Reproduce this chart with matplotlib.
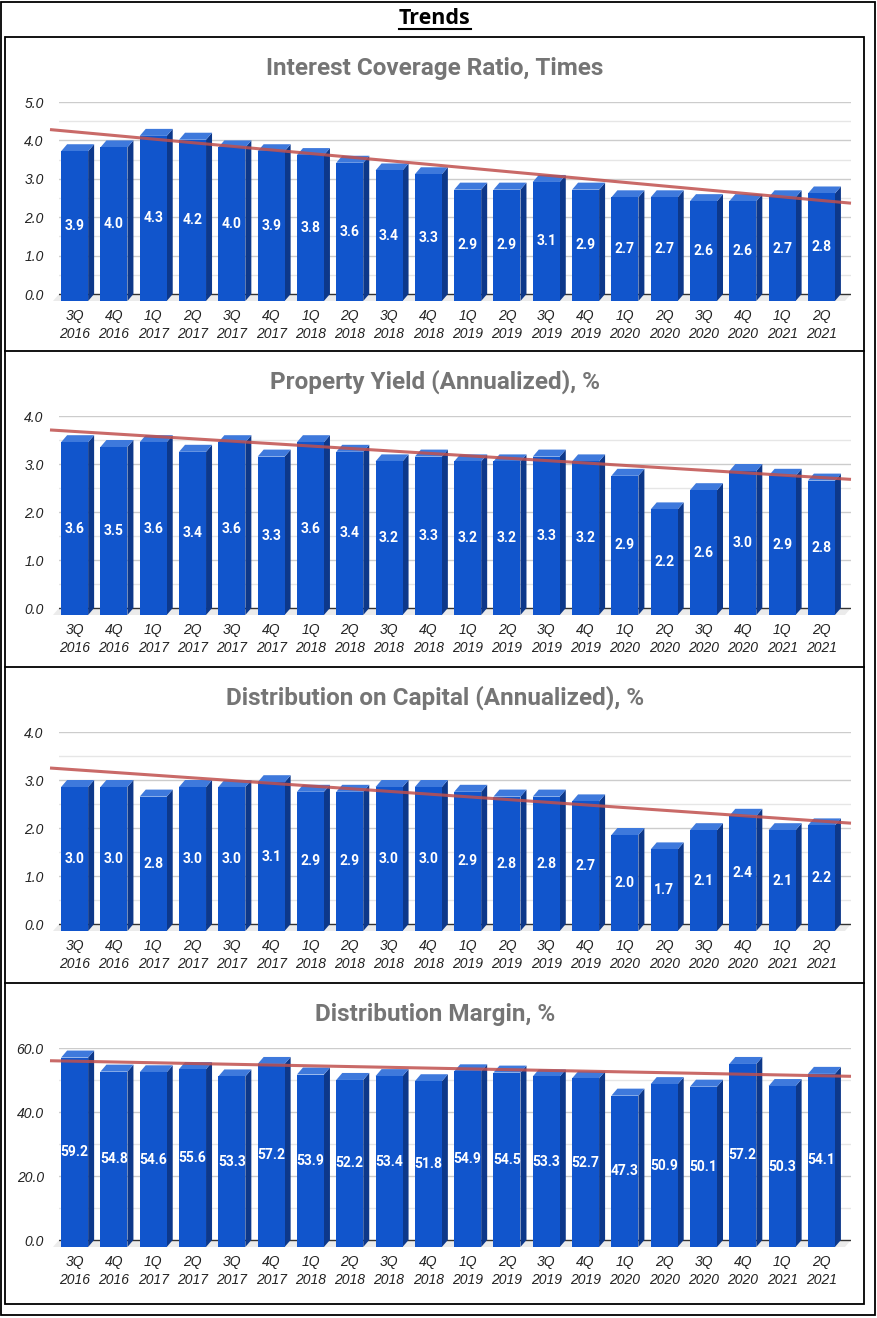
import numpy as np
import matplotlib
matplotlib.use("Agg")
import matplotlib.pyplot as plt
from matplotlib.patches import Polygon, Rectangle

plt.rcParams['font.family'] = ['Roboto', 'DejaVu Sans']

# --- Data ---
quarters = ["3Q\n2016", "4Q\n2016", "1Q\n2017", "2Q\n2017", "3Q\n2017", "4Q\n2017",
            "1Q\n2018", "2Q\n2018", "3Q\n2018", "4Q\n2018", "1Q\n2019", "2Q\n2019",
            "3Q\n2019", "4Q\n2019", "1Q\n2020", "2Q\n2020", "3Q\n2020", "4Q\n2020",
            "1Q\n2021", "2Q\n2021"]
interest_coverage = [3.9, 4.0, 4.3, 4.2, 4.0, 3.9, 3.8, 3.6, 3.4, 3.3,
                     2.9, 2.9, 3.1, 2.9, 2.7, 2.7, 2.6, 2.6, 2.7, 2.8]
property_yield = [3.6, 3.5, 3.6, 3.4, 3.6, 3.3, 3.6, 3.4, 3.2, 3.3,
                  3.2, 3.2, 3.3, 3.2, 2.9, 2.2, 2.6, 3.0, 2.9, 2.8]
distribution_capital = [3.0, 3.0, 2.8, 3.0, 3.0, 3.1, 2.9, 2.9, 3.0, 3.0,
                        2.9, 2.8, 2.8, 2.7, 2.0, 1.7, 2.1, 2.4, 2.1, 2.2]
distribution_margin = [59.2, 54.8, 54.6, 55.6, 53.3, 57.2, 53.9, 52.2, 53.4, 51.8,
                       54.9, 54.5, 53.3, 52.7, 47.3, 50.9, 50.1, 57.2, 50.3, 54.1]

titles = ["Interest Coverage Ratio, Times", "Property Yield (Annualized), %",
          "Distribution on Capital (Annualized), %", "Distribution Margin, %"]
series = [interest_coverage, property_yield, distribution_capital, distribution_margin]
y_tops = [5.0, 4.0, 4.0, 60.0]
y_steps = [1.0, 1.0, 1.0, 20.0]

# --- Style ---
FRONT = '#1155cc'
TOP = '#3e79dc'
SIDE = '#0d388a'
TREND = '#c0504d'
TICK_FONT = ['Liberation Sans', 'DejaVu Sans']

W, H = 878, 1318
fig = plt.figure(figsize=(W / 100, H / 100), dpi=100)

# background frame (pixel coords)
bg = fig.add_axes([0, 0, 1, 1], zorder=-5)
bg.set_xlim(0, W)
bg.set_ylim(H, 0)
bg.axis('off')
bg.add_patch(Rectangle((1.5, 1.5), 874, 1313, fill=False, lw=1.3, ec='black'))
bg.add_patch(Rectangle((5.5, 36.5), 859, 1267, fill=False, lw=1.3, ec='black'))
panel_tops = [36.5, 351, 667, 983]
for yy in panel_tops[1:]:
    bg.plot([5.5, 864.5], [yy, yy], color='black', lw=1.3)

ttl = bg.text(435, 19, "Trends", ha='center', va='center', fontsize=15.5,
              fontweight='bold', family=['Open Sans', 'DejaVu Sans'], color='black')

x = np.arange(len(quarters))
xmin, xmax = -0.55, 19.6
ax_left, ax_w = 59, 792
bar_w = 0.687

for k, (vals, title, ymax, step) in enumerate(zip(series, titles, y_tops, y_steps)):
    ptop = panel_tops[k] if k else 37
    ax_top = ptop + 65
    ax_bot = ptop + 264
    ppy = 192 / ymax
    ddy = 7 / ppy
    ppx = ax_w / (xmax - xmin)
    ddx = 6 / ppx

    ax = fig.add_axes([ax_left / W, 1 - ax_bot / H, ax_w / W, (ax_bot - ax_top) / H])
    ax.set_xlim(xmin, xmax)
    ax.set_ylim(-ddy, ymax)
    for s in ax.spines.values():
        s.set_visible(False)
    ax.patch.set_alpha(0)

    # gridlines (major + minor)
    for g in np.arange(step / 2, ymax + step / 4, step / 2):
        major = abs(g / step - round(g / step)) < 1e-6
        ax.plot([xmin, xmax], [g, g], color='#cccccc' if major else '#e6e6e6',
                lw=1, zorder=0)

    # floor and baseline
    ax.add_patch(Polygon([(xmin, 0), (xmax, 0), (xmax - ddx, -ddy), (xmin - ddx, -ddy)],
                         closed=True, color='#ebebeb', lw=0, clip_on=False, zorder=1))
    ax.plot([xmin, xmax], [0, 0], color='#333333', lw=1, zorder=2)

    # 3D-style bars
    for xi, v in zip(x, vals):
        xl, xr = xi - bar_w / 2, xi + bar_w / 2
        ax.add_patch(Polygon([(xr - ddx, -ddy), (xr, 0), (xr, v), (xr - ddx, v - ddy)],
                             closed=True, color=SIDE, lw=0, clip_on=False, zorder=3))
        ax.add_patch(Polygon([(xl - ddx, v - ddy), (xr - ddx, v - ddy), (xr, v), (xl, v)],
                             closed=True, color=TOP, lw=0, clip_on=False, zorder=3))
        ax.text(xi - ddx, v / 2 - ddy, f"{v:.1f}", ha='center', va='center',
                color='white', fontsize=10, fontweight='bold', zorder=6)
    ax.bar(x - ddx, vals, width=bar_w, bottom=-ddy, color=FRONT, lw=0,
           clip_on=False, zorder=3)

    # linear trendline
    coef = np.polyfit(x, vals, 1)
    xs = np.array([xmin - 1.5 * ddx, xmax])
    ax.plot(xs, np.polyval(coef, xs), color=TREND, lw=2.2, alpha=0.85,
            solid_capstyle='butt', clip_on=False, zorder=5)

    # ticks
    yt = np.arange(0, ymax + step / 4, step)
    ax.set_yticks(yt)
    ax.set_yticklabels([f"{t:.1f}" for t in yt], fontstyle='italic', fontsize=10,
                       color='#222222', family=TICK_FONT)
    ax.set_xticks(x - ddx)
    ax.set_xticklabels(quarters, fontstyle='italic', fontsize=10, color='#222222',
                       linespacing=1.3, family=TICK_FONT)
    ax.tick_params(axis='y', length=0, pad=11)
    ax.tick_params(axis='x', length=0, pad=6)

    fig.text(435 / W, 1 - (ptop + 31) / H, title, ha='center', va='center',
             fontsize=17.5, fontweight='bold', color='#757575')

# underline for the main heading
fig.canvas.draw()
bb = ttl.get_window_extent()
inv = bg.transData.inverted()
(x0, y0), (x1, y1) = inv.transform([(bb.x0, bb.y0), (bb.x1, bb.y1)])
bg.plot([x0, x1], [y0 - 1, y0 - 1], color='black', lw=1.5)

fig.savefig('out.png', dpi=100)
